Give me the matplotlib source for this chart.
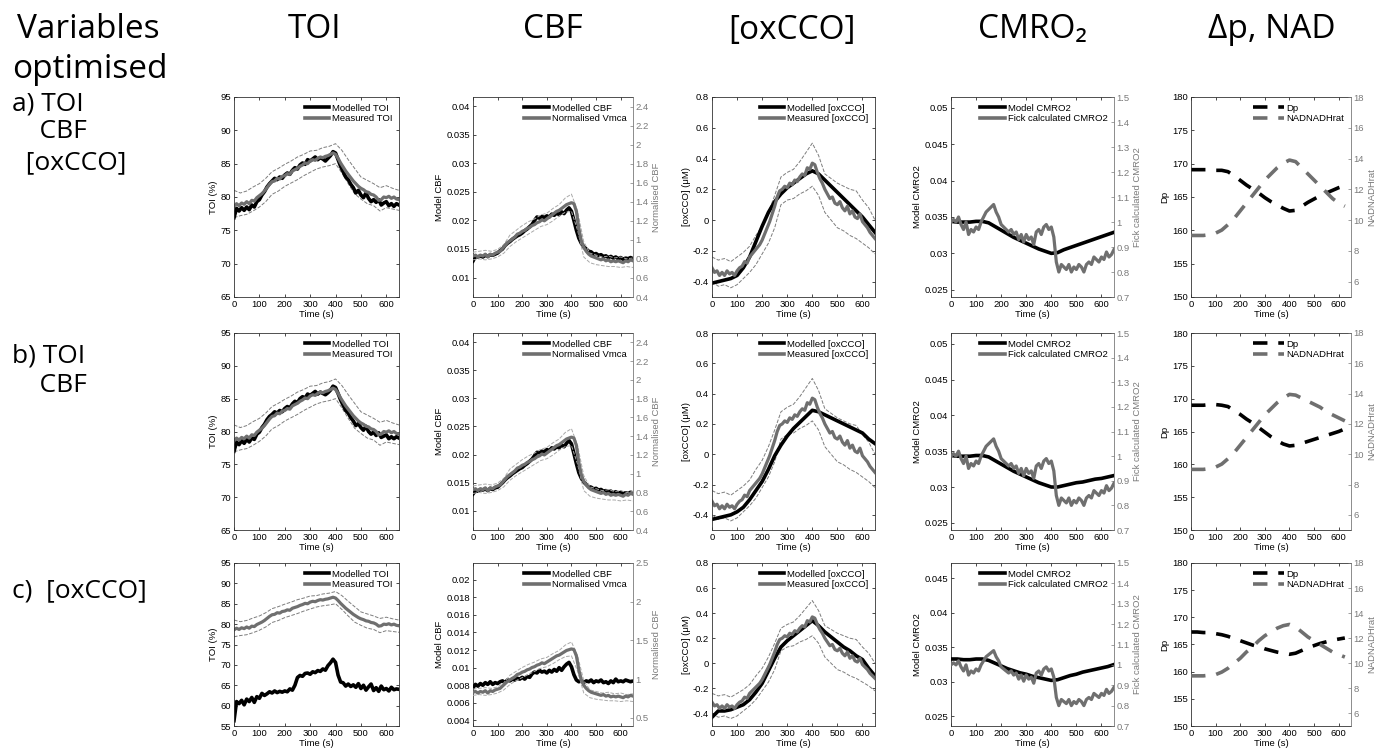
import numpy as np
import matplotlib
matplotlib.use("Agg")
import matplotlib.pyplot as plt
from matplotlib.lines import Line2D

plt.rcParams["font.family"] = ["Liberation Sans", "DejaVu Sans"]

W, H = 1385, 753

# time bases (s)
t_fine = np.arange(0, 651, 10)
t_band = np.arange(0, 651, 25)
t_dp = np.arange(0, 626, 25)

# ---- measured signals (same in all three rows) ----
toi_meas = [78.6, 79.0, 78.7, 79.1, 78.9, 79.3, 79.0, 79.5, 79.4, 79.9, 80.2, 80.5, 80.9, 81.4, 81.9,
            82.3, 82.4, 82.8, 82.7, 83.1, 83.2, 83.5, 83.4, 83.9, 84.1, 84.3, 84.6, 84.8, 85.1, 85.0,
            85.4, 85.6, 85.5, 85.8, 86.0, 85.9, 86.1, 86.2, 86.4, 86.6, 86.4, 85.8, 85.1, 84.5, 83.9,
            83.4, 82.9, 82.4, 82.0, 81.6, 81.3, 81.1, 80.8, 80.7, 80.4, 80.3, 80.0, 79.5, 79.6, 80.0,
            79.9, 80.1, 79.8, 80.0, 79.7, 79.6]
toi_upper = [81.0, 80.6, 80.9, 81.5, 82.0, 82.8, 83.8, 84.3, 84.9, 85.4, 86.0, 86.4, 86.9, 87.0,
             87.4, 87.6, 88.0, 87.0, 85.6, 84.3, 83.0, 82.5, 82.0, 81.4, 81.7, 81.3, 81.0]
toi_lower = [76.9, 77.2, 77.4, 77.9, 78.5, 79.3, 80.4, 80.9, 81.6, 82.1, 82.6, 83.2, 83.7, 84.2,
             84.5, 84.7, 85.0, 83.6, 82.0, 80.5, 79.7, 79.0, 78.7, 77.9, 78.4, 78.2, 78.0]

vmca_norm = [0.83, 0.84, 0.82, 0.84, 0.83, 0.85, 0.82, 0.85, 0.84, 0.86, 0.87, 0.88, 0.91, 0.94, 0.97,
             0.99, 1.01, 1.03, 1.06, 1.07, 1.09, 1.10, 1.12, 1.13, 1.15, 1.16, 1.18, 1.19, 1.21, 1.20,
             1.22, 1.24, 1.26, 1.28, 1.30, 1.31, 1.33, 1.35, 1.37, 1.38, 1.39, 1.38, 1.30, 1.12, 0.99,
             0.92, 0.88, 0.85, 0.83, 0.82, 0.81, 0.80, 0.79, 0.80, 0.78, 0.79, 0.77, 0.78, 0.77, 0.78,
             0.77, 0.76, 0.78, 0.77, 0.79, 0.78]
vmca_upper = [0.87, 0.88, 0.89, 0.88, 0.90, 0.95, 1.05, 1.10, 1.15, 1.19, 1.22, 1.26, 1.28, 1.33,
              1.37, 1.44, 1.48, 1.30, 0.98, 0.86, 0.84, 0.82, 0.83, 0.81, 0.82, 0.80, 0.81]
vmca_lower = [0.79, 0.80, 0.79, 0.80, 0.82, 0.86, 0.93, 0.98, 1.02, 1.06, 1.10, 1.14, 1.16, 1.20,
              1.25, 1.29, 1.30, 1.10, 0.82, 0.76, 0.74, 0.73, 0.72, 0.72, 0.71, 0.72, 0.71]

cco_meas = [-0.31, -0.34, -0.33, -0.36, -0.34, -0.36, -0.33, -0.35, -0.34, -0.36, -0.33, -0.31, -0.30,
            -0.27, -0.28, -0.24, -0.22, -0.20, -0.18, -0.16, -0.13, -0.09, -0.05, -0.01, 0.04, 0.09,
            0.15, 0.19, 0.20, 0.22, 0.21, 0.24, 0.23, 0.26, 0.25, 0.28, 0.30, 0.29, 0.34, 0.33, 0.37,
            0.36, 0.31, 0.27, 0.24, 0.20, 0.17, 0.14, 0.15, 0.11, 0.10, 0.12, 0.08, 0.06, 0.09, 0.04,
            0.06, 0.02, 0.01, 0.04, -0.01, -0.03, -0.05, -0.08, -0.10, -0.12]
cco_upper = [-0.24, -0.26, -0.25, -0.27, -0.24, -0.21, -0.17, -0.10, -0.04, 0.05, 0.16, 0.28, 0.31,
             0.33, 0.38, 0.44, 0.50, 0.42, 0.30, 0.27, 0.24, 0.22, 0.20, 0.19, 0.13, 0.08, 0.00]
cco_lower = [-0.40, -0.43, -0.42, -0.44, -0.42, -0.38, -0.34, -0.29, -0.22, -0.15, -0.05, 0.10, 0.13,
             0.14, 0.17, 0.19, 0.22, 0.16, 0.05, 0.00, -0.05, -0.07, -0.10, -0.12, -0.15, -0.18, -0.22]

fick_cmro2 = [1.00, 1.01, 1.00, 1.02, 0.99, 0.97, 1.00, 0.95, 0.97, 0.96, 0.98, 0.97, 1.00, 1.02, 1.04,
              1.05, 1.06, 1.07, 1.04, 1.02, 0.99, 0.98, 0.97, 0.96, 0.97, 0.95, 0.96, 0.93, 0.95, 0.92,
              0.95, 0.93, 0.94, 0.91, 0.96, 0.97, 0.95, 0.98, 0.99, 0.97, 0.98, 0.94, 0.84, 0.80, 0.83,
              0.82, 0.81, 0.83, 0.80, 0.82, 0.81, 0.83, 0.82, 0.80, 0.83, 0.84, 0.83, 0.86, 0.85, 0.84,
              0.86, 0.85, 0.88, 0.86, 0.87, 0.89]

# ---- model outputs, one list per row (a, b, c) ----
toi_model_a = [76.9, 78.3, 77.9, 78.4, 78.0, 78.5, 78.1, 78.8, 78.5, 79.3, 79.6, 80.3, 80.8, 81.5, 82.0,
               82.4, 82.8, 82.6, 83.0, 82.8, 83.3, 83.6, 83.4, 84.0, 84.4, 84.2, 84.8, 85.1, 84.9, 85.6,
               85.4, 85.7, 86.0, 85.6, 85.9, 85.7, 85.4, 85.8, 86.2, 86.8, 86.6, 85.6, 84.6, 83.8, 83.0,
               82.6, 81.9, 81.4, 80.6, 81.0, 80.3, 79.9, 80.6, 79.8, 79.3, 79.6, 79.2, 79.6, 78.8, 79.1,
               79.3, 78.7, 79.0, 78.6, 79.0, 78.8]
toi_model_b = [77.0, 78.4, 78.0, 78.6, 78.2, 78.8, 78.4, 79.0, 78.8, 79.6, 79.9, 80.6, 81.1, 81.8, 82.3,
               82.6, 83.0, 82.8, 83.2, 83.0, 83.5, 83.8, 83.6, 84.2, 84.6, 84.4, 85.0, 85.3, 85.1, 85.7,
               85.5, 85.8, 86.1, 85.7, 86.0, 85.8, 85.6, 85.9, 86.3, 86.9, 86.7, 85.8, 84.8, 84.0, 83.2,
               82.8, 82.1, 81.6, 80.9, 81.2, 80.6, 80.2, 80.8, 80.0, 79.6, 79.9, 79.4, 79.8, 79.1, 79.3,
               79.5, 78.9, 79.2, 78.9, 79.2, 79.0]
toi_model_c = [56.3, 61.0, 60.5, 61.3, 60.2, 61.6, 61.0, 62.0, 60.8, 62.2, 61.8, 63.0, 62.5, 62.9, 63.4,
               63.1, 63.6, 63.2, 63.5, 63.3, 63.6, 63.4, 64.1, 63.8, 65.0, 66.9, 67.4, 67.2, 67.9, 68.0,
               67.7, 68.3, 68.1, 68.6, 68.4, 69.0, 68.7, 69.8, 70.5, 71.4, 70.6, 67.5, 65.8, 65.6, 64.8,
               65.3, 64.7, 65.1, 64.5, 65.4, 64.2, 65.0, 63.8, 64.6, 65.3, 63.7, 64.4, 63.5, 64.8, 63.9,
               64.2, 63.6, 64.5, 63.9, 64.1, 64.0]

cbf_model_a = [0.0129, 0.0137, 0.0136, 0.0138, 0.0136, 0.0139, 0.0137, 0.0140, 0.0139, 0.0141, 0.0143,
               0.0147, 0.0150, 0.0156, 0.0160, 0.0163, 0.0167, 0.0170, 0.0173, 0.0175, 0.0178, 0.0182,
               0.0185, 0.0189, 0.0193, 0.0200, 0.0206, 0.0204, 0.0207, 0.0205, 0.0208, 0.0206, 0.0211,
               0.0209, 0.0213, 0.0210, 0.0215, 0.0212, 0.0218, 0.0222, 0.0216, 0.0200, 0.0183, 0.0169,
               0.0160, 0.0154, 0.0150, 0.0146, 0.0145, 0.0141, 0.0142, 0.0139, 0.0140, 0.0137, 0.0138,
               0.0135, 0.0137, 0.0134, 0.0136, 0.0133, 0.0135, 0.0132, 0.0134, 0.0133, 0.0135, 0.0133]
cbf_model_b = [0.0130, 0.0136, 0.0135, 0.0138, 0.0137, 0.0139, 0.0136, 0.0140, 0.0138, 0.0141, 0.0142,
               0.0146, 0.0150, 0.0155, 0.0159, 0.0162, 0.0166, 0.0169, 0.0172, 0.0175, 0.0177, 0.0181,
               0.0184, 0.0188, 0.0192, 0.0198, 0.0204, 0.0203, 0.0206, 0.0205, 0.0209, 0.0207, 0.0212,
               0.0210, 0.0214, 0.0212, 0.0217, 0.0214, 0.0220, 0.0225, 0.0219, 0.0202, 0.0184, 0.0168,
               0.0158, 0.0151, 0.0147, 0.0143, 0.0142, 0.0139, 0.0140, 0.0137, 0.0138, 0.0135, 0.0136,
               0.0134, 0.0135, 0.0132, 0.0134, 0.0131, 0.0133, 0.0131, 0.0132, 0.0131, 0.0133, 0.0132]
cbf_model_c = [0.0077, 0.0081, 0.0079, 0.0082, 0.0080, 0.0083, 0.0081, 0.0084, 0.0081, 0.0083, 0.0082,
               0.0084, 0.0085, 0.0083, 0.0086, 0.0085, 0.0087, 0.0086, 0.0088, 0.0087, 0.0089, 0.0087,
               0.0090, 0.0089, 0.0093, 0.0095, 0.0094, 0.0097, 0.0095, 0.0096, 0.0094, 0.0097, 0.0095,
               0.0098, 0.0096, 0.0100, 0.0097, 0.0101, 0.0104, 0.0106, 0.0101, 0.0092, 0.0086, 0.0084,
               0.0085, 0.0083, 0.0085, 0.0084, 0.0086, 0.0083, 0.0085, 0.0084, 0.0086, 0.0083, 0.0084,
               0.0082, 0.0085, 0.0083, 0.0087, 0.0084, 0.0085, 0.0084, 0.0086, 0.0085, 0.0084, 0.0085]

cco_model_a = [-0.41, -0.40, -0.39, -0.38, -0.36, -0.31, -0.24, -0.14, -0.04, 0.05, 0.12, 0.17, 0.21,
               0.24, 0.27, 0.30, 0.32, 0.30, 0.26, 0.22, 0.18, 0.14, 0.10, 0.06, 0.02, -0.03, -0.08]
cco_model_b = [-0.43, -0.42, -0.41, -0.40, -0.38, -0.35, -0.30, -0.24, -0.18, -0.10, -0.01, 0.06, 0.12,
               0.17, 0.21, 0.25, 0.29, 0.28, 0.26, 0.24, 0.22, 0.20, 0.18, 0.16, 0.14, 0.10, 0.07]
cco_model_c = [-0.43, -0.38, -0.38, -0.37, -0.35, -0.33, -0.29, -0.23, -0.16, -0.06, 0.04, 0.13, 0.18,
               0.22, 0.26, 0.30, 0.34, 0.30, 0.25, 0.21, 0.17, 0.13, 0.10, 0.06, 0.03, -0.04, -0.10]

cmro2_model_a = [0.0344, 0.0343, 0.0343, 0.0343, 0.0344, 0.0344, 0.0342, 0.0337, 0.0332, 0.0327, 0.0322,
                 0.0318, 0.0314, 0.0310, 0.0306, 0.0303, 0.0300, 0.0301, 0.0305, 0.0308, 0.0311, 0.0314,
                 0.0317, 0.0320, 0.0323, 0.0326, 0.0329]
cmro2_model_b = [0.0344, 0.0343, 0.0343, 0.0343, 0.0344, 0.0344, 0.0342, 0.0337, 0.0332, 0.0327, 0.0322,
                 0.0318, 0.0314, 0.0310, 0.0306, 0.0303, 0.0300, 0.0300, 0.0302, 0.0304, 0.0306, 0.0307,
                 0.0309, 0.0311, 0.0312, 0.0314, 0.0316]
cmro2_model_c = [0.0333, 0.0333, 0.0332, 0.0332, 0.0333, 0.0333, 0.0331, 0.0327, 0.0323, 0.0319, 0.0316,
                 0.0313, 0.0311, 0.0308, 0.0306, 0.0304, 0.0302, 0.0303, 0.0306, 0.0309, 0.0311, 0.0314,
                 0.0316, 0.0318, 0.0320, 0.0322, 0.0325]

dp_a = [169.1, 169.1, 169.1, 169.1, 169.0, 169.0, 168.8, 168.2, 167.5, 166.8, 166.2, 165.6, 164.9,
        164.3, 163.8, 163.3, 162.9, 163.0, 163.6, 164.2, 164.7, 165.2, 165.6, 166.0, 166.4, 166.7]
dp_b = [169.0, 169.0, 169.0, 169.1, 169.1, 169.0, 168.8, 168.2, 167.6, 166.9, 166.3, 165.6, 164.9,
        164.2, 163.6, 163.1, 162.8, 162.9, 163.2, 163.5, 163.8, 164.1, 164.4, 164.7, 165.0, 165.4]
dp_c = [167.3, 167.3, 167.2, 167.2, 167.0, 166.8, 166.5, 166.1, 165.7, 165.3, 164.9, 164.6, 164.2,
        163.9, 163.6, 163.4, 163.2, 163.4, 163.9, 164.4, 164.8, 165.2, 165.5, 165.8, 166.0, 166.2]
nad_a = [9.0, 9.0, 9.0, 9.05, 9.15, 9.35, 9.7, 10.1, 10.6, 11.1, 11.6, 12.1, 12.6, 13.0, 13.4, 13.7,
         13.9, 13.8, 13.4, 13.0, 12.6, 12.2, 11.8, 11.4, 11.1, 10.9]
nad_b = [9.0, 9.0, 9.0, 9.05, 9.15, 9.35, 9.7, 10.1, 10.6, 11.1, 11.6, 12.1, 12.6, 13.0, 13.4, 13.7,
         13.95, 13.9, 13.7, 13.5, 13.3, 13.1, 12.8, 12.6, 12.4, 12.2]
nad_c = [9.0, 9.0, 9.0, 9.05, 9.1, 9.3, 9.6, 10.0, 10.4, 10.9, 11.3, 11.8, 12.2, 12.5, 12.8, 13.0,
         13.1, 12.9, 12.5, 12.1, 11.8, 11.5, 11.2, 10.9, 10.7, 10.5]

col_titles = ["TOI", "CBF", "[oxCCO]", "CMRO\u2082", "\u0394p, NAD"]
row_labels = [["a) TOI", "    CBF", "  [oxCCO]"], ["b) TOI", "    CBF"], ["c)  [oxCCO]"]]

BLACK = "black"
GREY = "#6f6f6f"
BAND = "#7d7d7d"
BAND_LIGHT = "#a9a9a9"
AX_GREY = "#7a7a7a"
TS = 6.8  # small text size

# pixel boxes of the panels in the 1385x753 figure
COLS_X = [(234, 399), (473, 633), (712, 875), (951, 1114), (1191, 1351)]
ROWS_Y = [(97, 297), (333, 530), (563, 726)]


def make_ax(fig, r, c):
    x0, x1 = COLS_X[c]
    y0, y1 = ROWS_Y[r]
    return fig.add_axes([x0 / W, 1 - y1 / H, (x1 - x0) / W, (y1 - y0) / H])


def style(ax, twin=None):
    ax.set_xlim(0, 650)
    ax.set_xticks(range(0, 601, 100))
    ax.tick_params(direction="in", length=2.5, width=0.5, labelsize=TS, top=True,
                   right=twin is None, pad=2)
    for s in ax.spines.values():
        s.set_linewidth(0.6)
        s.set_color("#333333")
    ax.set_xlabel("Time (s)", fontsize=TS, labelpad=1)
    if twin is not None:
        ax.spines["right"].set_visible(False)
        twin.tick_params(direction="in", length=2.5, width=0.5, labelsize=TS, pad=2,
                         colors=AX_GREY)
        for k in ("left", "top", "bottom"):
            twin.spines[k].set_visible(False)
        twin.spines["right"].set_color(AX_GREY)
        twin.spines["right"].set_linewidth(0.6)


def legend(ax, handles, labels, dashed=False):
    ax.legend(handles, labels, loc="upper right", frameon=False, fontsize=TS,
              handlelength=3.2 if dashed else 2.6, handletextpad=0.3, labelspacing=0.15,
              borderaxespad=0.3)


def toi_panel(fig, r, model):
    ax = make_ax(fig, r, 0)
    ax.plot(t_band, toi_upper, "--", color=BAND, lw=0.7)
    ax.plot(t_band, toi_lower, "--", color=BAND, lw=0.7)
    ax.plot(t_fine, model, color=BLACK, lw=2.6)
    ax.plot(t_fine, toi_meas, color=GREY, lw=2.3)
    if r == 2:
        ax.set_ylim(55, 95)
    else:
        ax.set_ylim(65, 95)
    ax.set_yticks(range(int(ax.get_ylim()[0]), 96, 5))
    ax.set_ylabel("TOI (%)", fontsize=TS, labelpad=2)
    style(ax)
    legend(ax, [Line2D([], [], color=BLACK, lw=2.6), Line2D([], [], color=GREY, lw=2.6)],
           ["Modelled TOI", "Measured TOI"])


def cbf_panel(fig, r, model):
    ax = make_ax(fig, r, 1)
    tw = ax.twinx()
    ax.plot(t_fine, model, color=BLACK, lw=2.6, zorder=3)
    tw.plot(t_band, vmca_upper, "--", color=BAND_LIGHT, lw=0.7)
    tw.plot(t_band, vmca_lower, "--", color=BAND_LIGHT, lw=0.7)
    tw.plot(t_fine, vmca_norm, color=GREY, lw=2.3)
    if r == 2:
        ax.set_ylim(0.00337, 0.0219)
        lt = np.arange(0.004, 0.0201, 0.002)
        tw.set_ylim(0.394, 2.5)
        rt = np.array([0.5, 1, 1.5, 2, 2.5])
    else:
        ax.set_ylim(0.0066, 0.0416)
        lt = np.arange(0.01, 0.0401, 0.005)
        tw.set_ylim(0.4, 2.5)
        rt = np.arange(0.4, 2.41, 0.2)
    ax.set_yticks(lt)
    ax.set_yticklabels(["%g" % v for v in np.round(lt, 3)])
    tw.set_yticks(rt)
    tw.set_yticklabels(["%g" % v for v in np.round(rt, 1)])
    ax.set_ylabel("Model CBF", fontsize=TS, labelpad=2)
    tw.set_ylabel("Normalised CBF", fontsize=TS, color=AX_GREY, labelpad=2)
    style(ax, tw)
    legend(tw, [Line2D([], [], color=BLACK, lw=2.6), Line2D([], [], color=GREY, lw=2.6)],
           ["Modelled CBF", "Normalised Vmca"])


def cco_panel(fig, r, model):
    ax = make_ax(fig, r, 2)
    ax.plot(t_band, cco_upper, "--", color=BAND, lw=0.7)
    ax.plot(t_band, cco_lower, "--", color=BAND, lw=0.7)
    ax.plot(t_band, model, color=BLACK, lw=2.6)
    ax.plot(t_fine, cco_meas, color=GREY, lw=2.3)
    ax.set_ylim(-0.5, 0.8)
    ax.set_yticks([-0.4, -0.2, 0, 0.2, 0.4, 0.6, 0.8])
    ax.set_yticklabels(["-0.4", "-0.2", "0", "0.2", "0.4", "0.6", "0.8"])
    ax.set_ylabel("[oxCCO] (\u03bcM)", fontsize=TS, labelpad=1)
    style(ax)
    legend(ax, [Line2D([], [], color=BLACK, lw=2.6), Line2D([], [], color=GREY, lw=2.6)],
           ["Modelled [oxCCO]", "Measured [oxCCO]"])


def cmro2_panel(fig, r, model):
    ax = make_ax(fig, r, 3)
    tw = ax.twinx()
    ax.plot(t_band, model, color=BLACK, lw=2.6, zorder=3)
    tw.plot(t_fine, fick_cmro2, color=GREY, lw=2.3)
    if r == 2:
        ax.set_ylim(0.0236, 0.0472)
        ticks = np.arange(0.025, 0.0451, 0.005)
    else:
        ax.set_ylim(0.024, 0.0515)
        ticks = np.arange(0.025, 0.0501, 0.005)
    ax.set_yticks(ticks)
    ax.set_yticklabels(["%g" % v for v in np.round(ticks, 3)])
    tw.set_ylim(0.7, 1.5)
    rt = np.arange(0.7, 1.51, 0.1)
    tw.set_yticks(rt)
    tw.set_yticklabels(["%g" % v for v in np.round(rt, 1)])
    ax.set_ylabel("Model CMRO2", fontsize=TS, labelpad=2)
    tw.set_ylabel("Fick calculated CMRO2", fontsize=TS, color=AX_GREY, labelpad=2)
    style(ax, tw)
    legend(tw, [Line2D([], [], color=BLACK, lw=2.6), Line2D([], [], color=GREY, lw=2.6)],
           ["Model CMRO2", "Fick calculated CMRO2"])


def dp_panel(fig, r, dp, nad):
    ax = make_ax(fig, r, 4)
    tw = ax.twinx()
    ax.plot(t_dp, dp, "--", color=BLACK, lw=2.6, dashes=(4, 3))
    tw.plot(t_dp, nad, "--", color=GREY, lw=2.6, dashes=(4, 3))
    ax.set_ylim(150, 180)
    ax.set_yticks(range(150, 181, 5))
    tw.set_ylim(5, 18)
    tw.set_yticks(range(6, 19, 2))
    ax.set_ylabel("Dp", fontsize=TS, labelpad=2)
    tw.set_ylabel("NADNADHrat", fontsize=TS, color=AX_GREY, labelpad=2)
    style(ax, tw)
    legend(tw, [Line2D([], [], color=BLACK, lw=2.6, ls="--", dashes=(4, 3)),
                Line2D([], [], color=GREY, lw=2.6, ls="--", dashes=(4, 3))],
           ["Dp", "NADNADHrat"], dashed=True)


fig = plt.figure(figsize=(W / 100, H / 100), dpi=100)

models = [
    (toi_model_a, cbf_model_a, cco_model_a, cmro2_model_a, dp_a, nad_a),
    (toi_model_b, cbf_model_b, cco_model_b, cmro2_model_b, dp_b, nad_b),
    (toi_model_c, cbf_model_c, cco_model_c, cmro2_model_c, dp_c, nad_c),
]
for r, (toi_m, cbf_m, cco_m, cmro_m, dp_m, nad_m) in enumerate(models):
    toi_panel(fig, r, toi_m)
    cbf_panel(fig, r, cbf_m)
    cco_panel(fig, r, cco_m)
    cmro2_panel(fig, r, cmro_m)
    dp_panel(fig, r, dp_m, nad_m)

# big headings
HFONT = ["Open Sans", "DejaVu Sans"]
col_centers = [315, 553, 792, 1032, 1272]
for x, title in zip(col_centers, col_titles):
    fig.text(x / W, 1 - 30 / H, title, fontsize=24, family=HFONT, ha="center", va="center")
fig.text(88 / W, 1 - 30 / H, "Variables", fontsize=24, family=HFONT, ha="center", va="center")
fig.text(90 / W, 1 - 70 / H, "optimised", fontsize=24, family=HFONT, ha="center", va="center")

row_y = [[104, 132, 163], [356, 385], [591]]
for labels, ys in zip(row_labels, row_y):
    for lab, y in zip(labels, ys):
        fig.text(12 / W, 1 - y / H, lab, fontsize=19, family=HFONT, ha="left", va="center")

fig.savefig("out.png", dpi=100)
